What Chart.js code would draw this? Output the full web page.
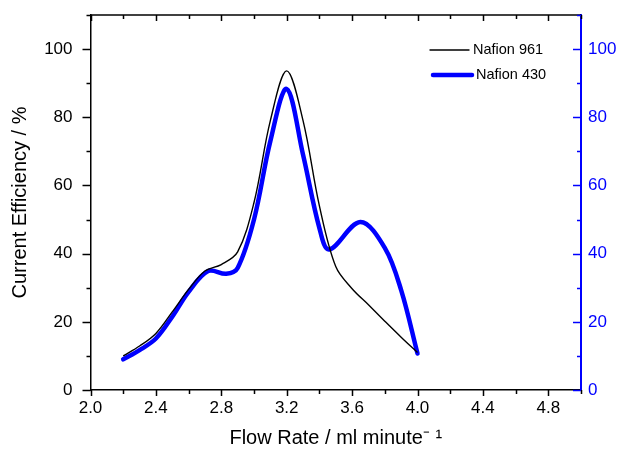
<!DOCTYPE html>
<html>
<head>
<meta charset="utf-8">
<script src="https://cdn.jsdelivr.net/npm/chart.js@4/dist/chart.umd.min.js"></script>
<style>
html,body{margin:0;padding:0;background:#fff;}
#wrap{width:621px;height:452px;}
</style>
</head>
<body>
<div id="wrap"><canvas id="c" width="621" height="452"></canvas></div>
<script>
// ---- data ----
const flowRate961 = [2.2, 2.3, 2.4, 2.5, 2.6, 2.7, 2.8, 2.9, 3.0, 3.1, 3.2, 3.3, 3.4, 3.5, 3.6, 3.7, 3.8, 3.9, 4.0];
const efficiency961 = [10, 12.9, 16.6, 22.9, 29.5, 34.9, 36.8, 40.5, 55, 79, 93.6, 79, 54, 36.2, 29.7, 25, 20.2, 15.5, 11];

const flowRate430 = [2.2, 2.3, 2.4, 2.5, 2.6, 2.72, 2.83, 2.9, 3.0, 3.1, 3.2, 3.3, 3.4, 3.46, 3.65, 3.8, 3.9, 4.0];
const efficiency430 = [9, 11.7, 15.1, 21.5, 28.8, 34.9, 34.1, 35.8, 50, 73, 88.3, 69, 47.5, 41.2, 49.3, 41.7, 29.3, 10.7];

const seriesNames = ['Nafion 961', 'Nafion 430'];
const xTickLabels = ['2.0', '2.4', '2.8', '3.2', '3.6', '4.0', '4.4', '4.8'];
const yTickLabels = ['0', '20', '40', '60', '80', '100'];

const FONT = 'Liberation Sans, Arial, Helvetica, sans-serif';
const BLUE = '#0000ff';

function pairs(xs, ys) { return xs.map((v, i) => ({ x: v, y: ys[i] })); }

const tickPlugin = {
  id: 'ticksAndFrame',
  afterDraw(chart) {
    const { ctx, chartArea: a, scales } = chart;
    ctx.save();
    ctx.strokeStyle = '#000';
    ctx.lineWidth = 1.5;
    ctx.beginPath();
    ctx.moveTo(a.left, a.top);
    ctx.lineTo(a.right, a.top);
    ctx.stroke();
    scales.x.ticks.forEach(t => {
      const px = Math.round(scales.x.getPixelForValue(t.value)) + 0.5;
      const major = xTickLabels.includes(t.value.toFixed(1));
      const len = major ? 6 : 4;
      ctx.beginPath();
      ctx.moveTo(px, a.bottom);
      ctx.lineTo(px, a.bottom + len);
      ctx.moveTo(px, a.top);
      ctx.lineTo(px, a.top + len);
      ctx.stroke();
    });
    scales.y.ticks.forEach(t => {
      const py = Math.round(scales.y.getPixelForValue(t.value)) + 0.5;
      const major = yTickLabels.includes(String(Math.round(t.value)));
      const len = major ? 8 : 4;
      ctx.beginPath();
      ctx.moveTo(a.left - len, py);
      ctx.lineTo(a.left, py);
      ctx.stroke();
    });
    ctx.strokeStyle = BLUE;
    scales.y2.ticks.forEach(t => {
      const py = Math.round(scales.y2.getPixelForValue(t.value)) + 0.5;
      const major = yTickLabels.includes(String(Math.round(t.value)));
      const len = major ? 8 : 4;
      ctx.beginPath();
      ctx.moveTo(a.right - len, py);
      ctx.lineTo(a.right, py);
      ctx.stroke();
    });
    ctx.restore();
  }
};

const legendPlugin = {
  id: 'insideLegend',
  afterDraw(chart) {
    const { ctx, chartArea: a } = chart;
    ctx.save();
    ctx.font = '14.5px ' + FONT;
    ctx.textBaseline = 'middle';
    ctx.textAlign = 'left';
    const rows = [{ y: a.top + 35, x0: a.right - 151, x1: a.right - 112 },
                  { y: a.top + 60, x0: a.right - 148, x1: a.right - 109 }];
    chart.data.datasets.forEach((ds, i) => {
      const r = rows[i];
      ctx.strokeStyle = ds.borderColor;
      ctx.lineWidth = ds.borderWidth;
      ctx.lineCap = 'round';
      ctx.beginPath();
      ctx.moveTo(r.x0, r.y);
      ctx.lineTo(r.x1, r.y);
      ctx.stroke();
      ctx.fillStyle = '#000';
      ctx.fillText(ds.label, r.x1 + 4, r.y);
    });
    ctx.restore();
  }
};

function noPad(s) { s.paddingTop = 0; s.paddingBottom = 0; }

new Chart(document.getElementById('c'), {
  type: 'line',
  data: {
    datasets: [
      {
        label: seriesNames[0],
        data: pairs(flowRate961, efficiency961),
        borderColor: '#000000',
        borderWidth: 1.4,
        pointRadius: 0,
        tension: 0.35,
        yAxisID: 'y'
      },
      {
        label: seriesNames[1],
        data: pairs(flowRate430, efficiency430),
        borderColor: BLUE,
        borderWidth: 4.5,
        pointRadius: 0,
        tension: 0.35,
        borderCapStyle: 'round',
        borderJoinStyle: 'round',
        yAxisID: 'y2'
      }
    ]
  },
  plugins: [tickPlugin, legendPlugin],
  options: {
    responsive: false,
    animation: false,
    layout: { padding: { top: 15, right: 0, left: 0, bottom: 0 } },
    plugins: { legend: { display: false }, tooltip: { enabled: false } },
    scales: {
      x: {
        type: 'linear',
        min: 2.0,
        max: 5.0,
        grid: { display: false, drawTicks: false },
        border: { display: true, color: '#000', width: 1.5 },
        ticks: {
          stepSize: 0.2,
          autoSkip: false,
          maxRotation: 0,
          padding: 8,
          color: '#000',
          font: { family: FONT, size: 17 },
          callback: (v) => { const s = Number(v).toFixed(1); return xTickLabels.includes(s) ? s : ''; }
        },
        title: {
          display: true,
          text: 'Flow Rate / ml minute⁻ ¹',
          color: '#000',
          font: { family: FONT, size: 20 },
          padding: { top: 2, bottom: 2 }
        },
        afterFit: (s) => { s.height = 62; s.paddingLeft = 0; s.paddingRight = 0; }
      },
      y: {
        type: 'linear',
        position: 'left',
        min: 0,
        max: 110,
        grid: { display: false, drawTicks: false },
        border: { display: true, color: '#000', width: 1.5 },
        ticks: {
          stepSize: 10,
          padding: 18,
          color: '#000',
          font: { family: FONT, size: 17 },
          callback: (v) => { const s = String(Math.round(v)); return yTickLabels.includes(s) ? s : ''; }
        },
        title: {
          display: true,
          text: 'Current Efficiency / %',
          color: '#000',
          font: { family: FONT, size: 20 },
          padding: { top: 8, bottom: 0 }
        },
        afterFit: (s) => { s.width = 90.5; noPad(s); }
      },
      y2: {
        type: 'linear',
        position: 'right',
        min: 0,
        max: 110,
        grid: { display: false, drawTicks: false },
        border: { display: true, color: BLUE, width: 2 },
        ticks: {
          stepSize: 10,
          padding: 7,
          color: BLUE,
          font: { family: FONT, size: 17 },
          callback: (v) => { const s = String(Math.round(v)); return yTickLabels.includes(s) ? s : ''; }
        },
        afterFit: (s) => { s.width = 40; noPad(s); }
      }
    }
  }
});
</script>
</body>
</html>
